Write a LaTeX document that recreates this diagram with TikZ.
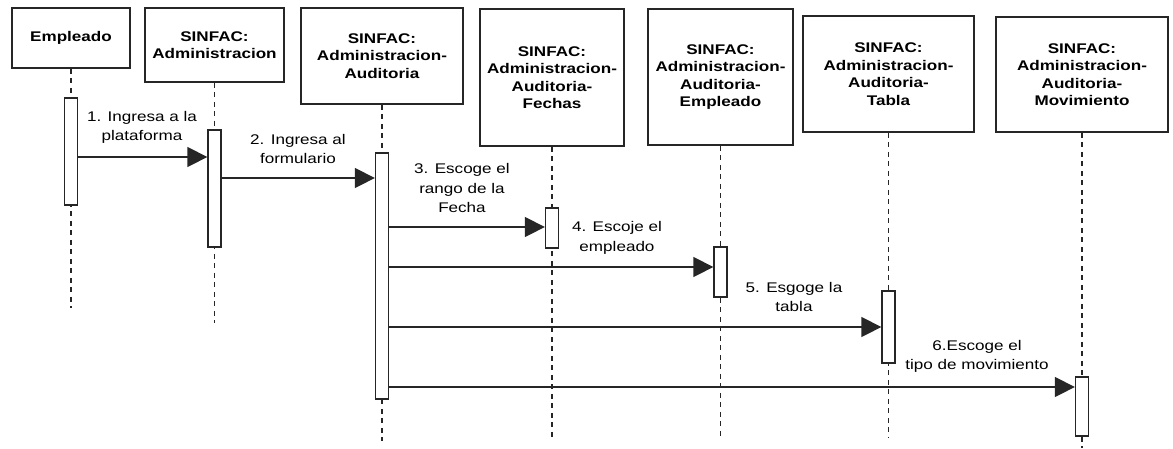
\documentclass[tikz,border=0pt]{standalone}
\usepackage{fontspec}
\setmainfont[FakeStretch=1.22]{Liberation Sans}
\usetikzlibrary{arrows.meta}
\begin{document}
\begin{tikzpicture}[x=1pt,y=-1pt,
  objbox/.style={draw=black!85, line width=1.6pt, fill=white, align=center,
    font=\fontsize{14}{17.5}\selectfont\bfseries, inner sep=0pt},
  actbar/.style={draw=black!85, line width=1.3pt, fill=white, minimum width=13pt, inner sep=0pt},
  lifeline/.style={draw=black!85, line width=1.3pt, dash pattern=on 5pt off 4.5pt},
  msg/.style={draw=black!85, line width=1.4pt, -{Triangle[length=20pt,width=20pt]}},
  msglabel/.style={align=center, font=\fontsize{14}{19.3}\selectfont, inner sep=0pt}]
\useasboundingbox (0,0) rectangle (1173,448);

% participants
\node[objbox, minimum width=118pt, minimum height=60pt] (e)  at (71,38)      {Empleado};
\node[objbox, minimum width=139pt, minimum height=74pt] (a)  at (214.5,45)   {SINFAC:\\Administracion};
\node[objbox, minimum width=162pt, minimum height=96pt] (au) at (382,56)     {SINFAC:\\Administracion-\\Auditoria};
\node[objbox, minimum width=144pt, minimum height=137pt] (f) at (552,77.5)   {SINFAC:\\Administracion-\\Auditoria-\\Fechas};
\node[objbox, minimum width=145pt, minimum height=136pt] (em) at (720.5,77)  {SINFAC:\\Administracion-\\Auditoria-\\Empleado};
\node[objbox, minimum width=171pt, minimum height=116pt] (t) at (888.5,74)   {SINFAC:\\Administracion-\\Auditoria-\\Tabla};
\node[objbox, minimum width=172pt, minimum height=115pt] (m) at (1082,74.5)  {SINFAC:\\Administracion-\\Auditoria-\\Movimiento};

% lifeline ends
\coordinate (eEnd)  at (71,308);
\coordinate (aEnd)  at (214.5,323);
\coordinate (auEnd) at (382,441);
\coordinate (fEnd)  at (552,438);
\coordinate (emEnd) at (720.5,438);
\coordinate (tEnd)  at (888.5,438);
\coordinate (mEnd)  at (1082,448);

\foreach \p in {e,a,au,f,em,t,m}
  \draw[lifeline] (\p.south) -- (\p End);

% activation bars
\node[actbar, minimum height=107pt] (b1) at (71,151.5)    {};
\node[actbar, minimum height=117pt] (b2) at (214.5,188.5) {};
\node[actbar, minimum height=246pt] (b3) at (382,276)     {};
\node[actbar, minimum height=40pt]  (b4) at (552,228)     {};
\node[actbar, minimum height=50pt]  (b5) at (720.5,272)   {};
\node[actbar, minimum height=72pt]  (b6) at (888.5,327)   {};
\node[actbar, minimum height=59pt]  (b7) at (1082,406.5)  {};

% message levels
\coordinate (y1) at (0,157);
\coordinate (y2) at (0,178);
\coordinate (y3) at (0,227);
\coordinate (y4) at (0,267);
\coordinate (y5) at (0,327);
\coordinate (y6) at (0,387);

\draw[msg] (b1.east |- y1) -- (b2.west |- y1);
\draw[msg] (b2.east |- y2) -- (b3.west |- y2);
\draw[msg] (b3.east |- y3) -- (b4.west |- y3);
\draw[msg] (b3.east |- y4) -- (b5.west |- y4);
\draw[msg] (b3.east |- y5) -- (b6.west |- y5);
\draw[msg] (b3.east |- y6) -- (b7.west |- y6);

% message texts
\node[msglabel] (l1) at (142,127.5) {1. Ingresa a la\\plataforma};
\node[msglabel] (l2) at (298,149)   {2. Ingresa al\\formulario};
\node[msglabel] (l3) at (462,188)   {3. Escoge el\\rango de la\\Fecha};
\node[msglabel] (l4) at (617,238)   {4. Escoje el\\empleado};
\node[msglabel] (l5) at (794,297)   {5. Esgoge la\\tabla};
\node[msglabel] (l6) at (977,356.5) {6.Escoge el\\tipo de movimiento};
\end{tikzpicture}
\end{document}
